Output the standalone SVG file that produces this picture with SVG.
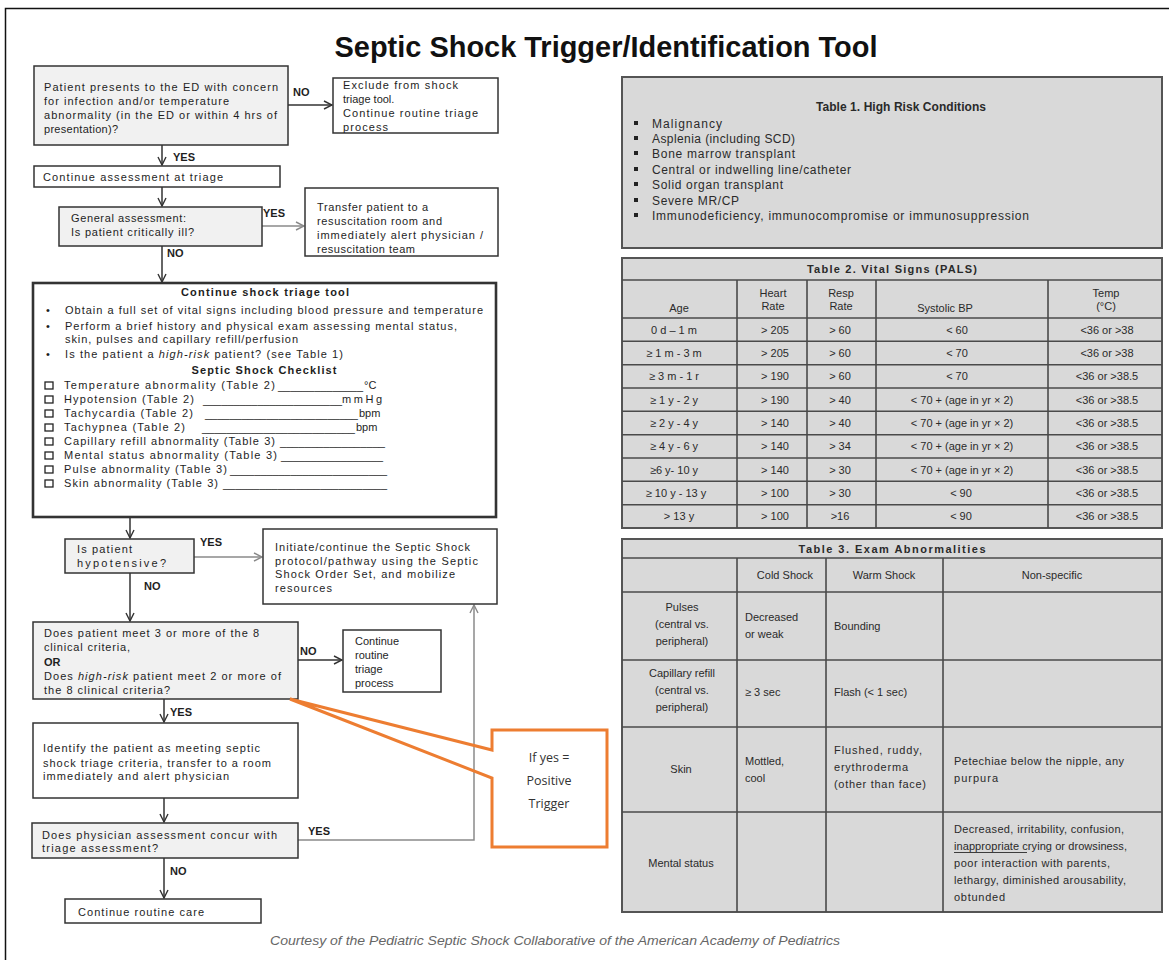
<svg xmlns="http://www.w3.org/2000/svg" width="1169" height="960" viewBox="0 0 1169 960">
  <defs>
    <marker id="arr" viewBox="0 0 10 10" refX="9" refY="5" markerWidth="10" markerHeight="10" markerUnits="userSpaceOnUse" orient="auto">
      <path d="M1,1 L9,5 L1,9" fill="none" stroke="#333" stroke-width="1.4"/>
    </marker>
    <marker id="arrG" viewBox="0 0 10 10" refX="9" refY="5" markerWidth="10" markerHeight="10" markerUnits="userSpaceOnUse" orient="auto">
      <path d="M1,1 L9,5 L1,9" fill="none" stroke="#8a8a8a" stroke-width="1.4"/>
    </marker>
    <style>
      .t { font-family: "Liberation Sans", Arial, sans-serif; font-size: 11px; fill: #1e1e1e; }
      .b { font-weight: bold; }
      .i { font-style: italic; }
      .mid { text-anchor: middle; }
      .box { fill: #ffffff; stroke: #333; stroke-width: 1.5; }
      .gbox { fill: #f1f1f1; stroke: #333; stroke-width: 1.5; }
      .conn { fill: none; stroke: #333; stroke-width: 1.5; }
      .conng { fill: none; stroke: #8a8a8a; stroke-width: 1.5; }
      .chk { fill: #fff; stroke: #222; stroke-width: 1.3; }
      .tbl { fill: #d9d9d9; stroke: #555; stroke-width: 2; }
      .grid { stroke: #4a4a4a; stroke-width: 1.6; }
      .tt { font-family: "Liberation Sans", Arial, sans-serif; font-size: 11px; fill: #2a2a2a; }
      .t1 { font-family: "Liberation Sans", Arial, sans-serif; font-size: 12px; fill: #2a2a2a; }
      .co { font-family: "Open Sans", "Noto Sans", sans-serif; font-size: 12.5px; fill: #333; text-anchor: middle; }
    </style>
  </defs>

  <rect width="1169" height="960" fill="#ffffff"/>
  <!-- page frame -->
  <rect x="5.5" y="8.5" width="1200" height="1000" fill="none" stroke="#111" stroke-width="1.5"/>

  <text class="t b mid" x="606" y="57" style="font-size:30px;fill:#111" textLength="543" lengthAdjust="spacingAndGlyphs">Septic Shock Trigger/Identification Tool</text>

  <!-- connectors -->
  <g id="connectors">
    <line class="conn" x1="288" y1="105" x2="332" y2="105" marker-end="url(#arr)"/>
    <line class="conn" x1="162" y1="145" x2="162" y2="165" marker-end="url(#arr)"/>
    <line class="conn" x1="162" y1="187" x2="162" y2="206" marker-end="url(#arr)"/>
    <line class="conng" x1="262" y1="226" x2="304" y2="226" marker-end="url(#arrG)"/>
    <line class="conn" x1="162" y1="246" x2="162" y2="282" marker-end="url(#arr)"/>
    <line class="conn" x1="130" y1="517" x2="130" y2="538" marker-end="url(#arr)"/>
    <line class="conng" x1="194" y1="557" x2="262" y2="557" marker-end="url(#arrG)"/>
    <line class="conn" x1="130" y1="573" x2="130" y2="621" marker-end="url(#arr)"/>
    <line class="conn" x1="298" y1="660" x2="342" y2="660" marker-end="url(#arr)"/>
    <line class="conn" x1="164" y1="699" x2="164" y2="722" marker-end="url(#arr)"/>
    <line class="conn" x1="164" y1="798" x2="164" y2="822" marker-end="url(#arr)"/>
    <polyline class="conng" points="298,840 474,840 474,605" marker-end="url(#arrG)"/>
    <line class="conn" x1="164" y1="858" x2="164" y2="898" marker-end="url(#arr)"/>

    <text class="t b" x="293" y="96">NO</text>
    <text class="t b" x="173" y="161">YES</text>
    <text class="t b" x="263" y="217">YES</text>
    <text class="t b" x="167" y="257">NO</text>
    <text class="t b" x="200" y="546">YES</text>
    <text class="t b" x="144" y="590">NO</text>
    <text class="t b" x="300" y="655">NO</text>
    <text class="t b" x="170" y="716">YES</text>
    <text class="t b" x="308" y="835">YES</text>
    <text class="t b" x="170" y="875">NO</text>
  </g>

  <g id="n-presents">
    <rect class="gbox" x="34" y="66" width="254" height="79"/>
    <text class="t" x="44" y="91" textLength="234">Patient presents to the ED with concern</text>
    <text class="t" x="44" y="105" textLength="185">for infection and/or temperature</text>
    <text class="t" x="44" y="119" textLength="233">abnormality (in the ED or within 4 hrs of</text>
    <text class="t" x="44" y="133" textLength="74">presentation)?</text>
  </g>

  <g id="n-exclude">
    <rect class="box" x="333" y="78" width="165" height="55"/>
    <text class="t" x="343" y="89" textLength="115">Exclude from shock</text>
    <text class="t" x="343" y="103">triage tool.</text>
    <text class="t" x="343" y="117" textLength="135">Continue routine triage</text>
    <text class="t" x="343" y="131" textLength="45">process</text>
  </g>

  <g id="n-continue-assess">
    <rect class="box" x="34" y="166" width="246" height="21"/>
    <text class="t" x="43" y="181" textLength="180">Continue assessment at triage</text>
  </g>

  <g id="n-general">
    <rect class="gbox" x="59" y="207" width="203" height="39"/>
    <text class="t" x="71" y="222" textLength="115">General assessment:</text>
    <text class="t" x="71" y="236" textLength="123">Is patient critically ill?</text>
  </g>

  <g id="n-transfer">
    <rect class="box" x="305" y="188" width="193" height="68"/>
    <text class="t" x="317" y="211" textLength="111">Transfer patient to a</text>
    <text class="t" x="317" y="225" textLength="125">resuscitation room and</text>
    <text class="t" x="317" y="239" textLength="166">immediately alert physician /</text>
    <text class="t" x="317" y="253" textLength="98">resuscitation team</text>
  </g>

  <g id="n-triage-tool">
    <rect class="box" x="33" y="283" width="463" height="234" style="stroke-width:2.6"/>
    <text class="t b mid" x="265" y="296" textLength="168">Continue shock triage tool</text>
    <text class="t" x="46" y="314">•</text>
    <text class="t" x="65" y="314" textLength="418">Obtain a full set of vital signs including blood pressure and temperature</text>
    <text class="t" x="46" y="330">•</text>
    <text class="t" x="65" y="330" textLength="392">Perform a brief history and physical exam assessing mental status,</text>
    <text class="t" x="65" y="343" textLength="233">skin, pulses and capillary refill/perfusion</text>
    <text class="t" x="46" y="358">•</text>
    <text class="t" x="65" y="358" textLength="278">Is the patient  a <tspan class="i">high-risk</tspan> patient? (see Table 1)</text>
    <text class="t b mid" x="264" y="374" textLength="145">Septic Shock Checklist</text>

    <rect class="chk" x="45" y="382" width="8" height="7"/>
    <text class="t" x="64" y="389" textLength="211">Temperature abnormality (Table 2)</text>
    <text class="t" x="278" y="390" textLength="85" lengthAdjust="spacingAndGlyphs">______________</text>
    <text class="t" x="364" y="389">°C</text>

    <rect class="chk" x="45" y="396" width="8" height="7"/>
    <text class="t" x="64" y="403" textLength="130">Hypotension (Table 2)</text>
    <text class="t" x="203" y="404" textLength="139" lengthAdjust="spacingAndGlyphs">_______________________</text>
    <text class="t" x="342" y="403" textLength="40">mmHg</text>

    <rect class="chk" x="45" y="410" width="8" height="7"/>
    <text class="t" x="64" y="417" textLength="129">Tachycardia (Table 2)</text>
    <text class="t" x="205" y="418" textLength="153" lengthAdjust="spacingAndGlyphs">_________________________</text>
    <text class="t" x="359" y="417">bpm</text>

    <rect class="chk" x="45" y="424" width="8" height="7"/>
    <text class="t" x="64" y="431" textLength="121">Tachypnea (Table 2)</text>
    <text class="t" x="202" y="432" textLength="153" lengthAdjust="spacingAndGlyphs">_________________________</text>
    <text class="t" x="356" y="431">bpm</text>

    <rect class="chk" x="45" y="438" width="8" height="7"/>
    <text class="t" x="64" y="445" textLength="211">Capillary refill abnormality (Table 3)</text>
    <text class="t" x="280" y="446" textLength="105" lengthAdjust="spacingAndGlyphs">_________________</text>

    <rect class="chk" x="45" y="452" width="8" height="7"/>
    <text class="t" x="64" y="459" textLength="213">Mental status abnormality  (Table 3)</text>
    <text class="t" x="281" y="460" textLength="102" lengthAdjust="spacingAndGlyphs">_________________</text>

    <rect class="chk" x="45" y="466" width="8" height="7"/>
    <text class="t" x="64" y="473" textLength="163">Pulse abnormality (Table 3)</text>
    <text class="t" x="230" y="474" textLength="157" lengthAdjust="spacingAndGlyphs">__________________________</text>

    <rect class="chk" x="45" y="480" width="8" height="7"/>
    <text class="t" x="64" y="487" textLength="154">Skin abnormality (Table 3)</text>
    <text class="t" x="223" y="488" textLength="164" lengthAdjust="spacingAndGlyphs">___________________________</text>
  </g>

  <g id="n-hypotensive">
    <rect class="gbox" x="65" y="539" width="129" height="34"/>
    <text class="t" x="77" y="553" textLength="55">Is patient</text>
    <text class="t" x="77" y="567" textLength="89">hypotensive?</text>
  </g>

  <g id="n-initiate">
    <rect class="box" x="263" y="529" width="234" height="75"/>
    <text class="t" x="275" y="551" textLength="195">Initiate/continue the Septic Shock</text>
    <text class="t" x="275" y="565" textLength="203">protocol/pathway using the Septic</text>
    <text class="t" x="275" y="578" textLength="180">Shock Order Set, and mobilize</text>
    <text class="t" x="275" y="592" textLength="57">resources</text>
  </g>

  <g id="n-criteria">
    <rect class="gbox" x="33" y="622" width="265" height="77"/>
    <text class="t" x="44" y="637" textLength="215">Does patient meet 3 or more of the 8</text>
    <text class="t" x="44" y="651" textLength="86">clinical criteria,</text>
    <text class="t b" x="44" y="666">OR</text>
    <text class="t" x="44" y="680" textLength="237">Does <tspan class="i">high-risk</tspan> patient meet 2 or more of</text>
    <text class="t" x="44" y="694" textLength="126">the 8 clinical criteria?</text>
  </g>

  <g id="n-routine-triage">
    <rect class="box" x="343" y="630" width="98" height="62"/>
    <text class="t" x="355" y="645">Continue</text>
    <text class="t" x="355" y="659">routine</text>
    <text class="t" x="355" y="673">triage</text>
    <text class="t" x="355" y="687">process</text>
  </g>

  <g id="n-identify">
    <rect class="box" x="33" y="723" width="265" height="75"/>
    <text class="t" x="43" y="752" textLength="217">Identify the patient as meeting septic</text>
    <text class="t" x="43" y="767" textLength="228">shock triage criteria, transfer to a room</text>
    <text class="t" x="43" y="780" textLength="186">immediately and alert physician</text>
  </g>

  <g id="n-physician">
    <rect class="gbox" x="32" y="823" width="266" height="35"/>
    <text class="t" x="42" y="839" textLength="235">Does physician assessment concur with</text>
    <text class="t" x="42" y="852" textLength="116">triage assessment?</text>
  </g>

  <g id="n-routine-care">
    <rect class="box" x="65" y="899" width="196" height="24"/>
    <text class="t" x="78" y="916" textLength="126">Continue routine care</text>
  </g>

  <g id="n-callout">
    <path d="M492,730 H607 V847 H492 V778 L290,699 L492,750 Z" fill="none" stroke="#ED7D31" stroke-width="3" stroke-linejoin="miter"/>
    <text class="co" x="549" y="762">If yes =</text>
    <text class="co" x="549" y="785">Positive</text>
    <text class="co" x="549" y="808">Trigger</text>
  </g>

  <!-- Table 1 -->
  <g id="table1">
    <rect class="tbl" x="622" y="77" width="540" height="171"/>
    <text class="t1 b mid" x="901" y="111" textLength="170">Table 1. High Risk Conditions</text>
    <g class="t1">
      <rect x="634" y="121" width="4" height="4" fill="#222"/>
      <text x="652" y="128" textLength="70">Malignancy</text>
      <rect x="634" y="136" width="4" height="4" fill="#222"/>
      <text x="652" y="143" textLength="143">Asplenia (including SCD)</text>
      <rect x="634" y="151" width="4" height="4" fill="#222"/>
      <text x="652" y="158" textLength="143">Bone marrow transplant</text>
      <rect x="634" y="167" width="4" height="4" fill="#222"/>
      <text x="652" y="174" textLength="199">Central or indwelling line/catheter</text>
      <rect x="634" y="182" width="4" height="4" fill="#222"/>
      <text x="652" y="189" textLength="131">Solid organ transplant</text>
      <rect x="634" y="198" width="4" height="4" fill="#222"/>
      <text x="652" y="205" textLength="87">Severe MR/CP</text>
      <rect x="634" y="213" width="4" height="4" fill="#222"/>
      <text x="652" y="220" textLength="377">Immunodeficiency, immunocompromise or immunosuppression</text>
    </g>
  </g>

  <!-- Table 2 -->
  <g id="table2">
    <rect class="tbl" x="622" y="258" width="540" height="270"/>
    <g class="grid">
      <line x1="622" y1="280" x2="1162" y2="280"/>
      <line x1="622" y1="318" x2="1162" y2="318"/>
      <line x1="622" y1="341.3" x2="1162" y2="341.3"/>
      <line x1="622" y1="364.7" x2="1162" y2="364.7"/>
      <line x1="622" y1="388" x2="1162" y2="388"/>
      <line x1="622" y1="411.3" x2="1162" y2="411.3"/>
      <line x1="622" y1="434.7" x2="1162" y2="434.7"/>
      <line x1="622" y1="458" x2="1162" y2="458"/>
      <line x1="622" y1="481.3" x2="1162" y2="481.3"/>
      <line x1="622" y1="504.7" x2="1162" y2="504.7"/>
      <line x1="737" y1="280" x2="737" y2="528"/>
      <line x1="807" y1="280" x2="807" y2="528"/>
      <line x1="876" y1="280" x2="876" y2="528"/>
      <line x1="1048" y1="280" x2="1048" y2="528"/>
    </g>
    <text class="tt b mid" x="892" y="273" textLength="170">Table 2. Vital Signs (PALS)</text>
    <g class="tt mid">
      <text x="679" y="312">Age</text>
      <text x="773" y="297">Heart</text>
      <text x="773" y="310">Rate</text>
      <text x="841" y="297">Resp</text>
      <text x="841" y="310">Rate</text>
      <text x="945" y="312">Systolic BP</text>
      <text x="1106" y="297">Temp</text>
      <text x="1106" y="310">(°C)</text>

      <text x="674" y="334">0 d –  1 m</text>
      <text x="674" y="357">≥ 1 m - 3 m</text>
      <text x="674" y="380">≥ 3 m - 1 r</text>
      <text x="674" y="404">≥ 1 y - 2 y</text>
      <text x="674" y="427">≥ 2 y - 4 y</text>
      <text x="674" y="450">≥ 4 y - 6 y</text>
      <text x="674" y="474">≥6 y- 10 y</text>
      <text x="676" y="497">≥ 10 y - 13 y</text>
      <text x="679" y="520">&gt; 13 y</text>

      <text x="775" y="334">&gt; 205</text>
      <text x="775" y="357">&gt; 205</text>
      <text x="775" y="380">&gt; 190</text>
      <text x="775" y="404">&gt; 190</text>
      <text x="775" y="427">&gt; 140</text>
      <text x="775" y="450">&gt; 140</text>
      <text x="775" y="474">&gt; 140</text>
      <text x="775" y="497">&gt; 100</text>
      <text x="775" y="520">&gt; 100</text>

      <text x="840" y="334">&gt; 60</text>
      <text x="840" y="357">&gt; 60</text>
      <text x="840" y="380">&gt; 60</text>
      <text x="840" y="404">&gt; 40</text>
      <text x="840" y="427">&gt; 40</text>
      <text x="840" y="450">&gt; 34</text>
      <text x="840" y="474">&gt; 30</text>
      <text x="840" y="497">&gt; 30</text>
      <text x="840" y="520">&gt;16</text>

      <text x="957" y="334">&lt; 60</text>
      <text x="957" y="357">&lt; 70</text>
      <text x="957" y="380">&lt; 70</text>
      <text x="962" y="404">&lt; 70 +  (age in yr × 2)</text>
      <text x="962" y="427">&lt; 70 +  (age in yr × 2)</text>
      <text x="962" y="450">&lt; 70 +  (age in yr × 2)</text>
      <text x="962" y="474">&lt; 70 +  (age in yr × 2)</text>
      <text x="961" y="497">&lt; 90</text>
      <text x="961" y="520">&lt; 90</text>

      <text x="1107" y="334">&lt;36 or &gt;38</text>
      <text x="1107" y="357">&lt;36 or &gt;38</text>
      <text x="1107" y="380">&lt;36 or &gt;38.5</text>
      <text x="1107" y="404">&lt;36 or &gt;38.5</text>
      <text x="1107" y="427">&lt;36 or &gt;38.5</text>
      <text x="1107" y="450">&lt;36 or &gt;38.5</text>
      <text x="1107" y="474">&lt;36 or &gt;38.5</text>
      <text x="1107" y="497">&lt;36 or &gt;38.5</text>
      <text x="1107" y="520">&lt;36 or &gt;38.5</text>
    </g>
  </g>

  <!-- Table 3 -->
  <g id="table3">
    <rect class="tbl" x="622" y="539" width="540" height="373"/>
    <g class="grid">
      <line x1="622" y1="558" x2="1162" y2="558"/>
      <line x1="622" y1="592" x2="1162" y2="592"/>
      <line x1="622" y1="660" x2="1162" y2="660"/>
      <line x1="622" y1="727" x2="1162" y2="727"/>
      <line x1="622" y1="812" x2="1162" y2="812"/>
      <line x1="737" y1="558" x2="737" y2="912"/>
      <line x1="826" y1="558" x2="826" y2="912"/>
      <line x1="943" y1="558" x2="943" y2="912"/>
    </g>
    <text class="tt b mid" x="892" y="553" textLength="187">Table 3.  Exam Abnormalities</text>
    <g class="tt">
      <text class="mid" x="785" y="579">Cold Shock</text>
      <text class="mid" x="884" y="579">Warm Shock</text>
      <text class="mid" x="1052" y="579">Non-specific</text>

      <text class="mid" x="682" y="611">Pulses</text>
      <text class="mid" x="682" y="628">(central vs.</text>
      <text class="mid" x="682" y="645">peripheral)</text>
      <text x="745" y="621">Decreased</text>
      <text x="745" y="638">or weak</text>
      <text x="834" y="630">Bounding</text>

      <text class="mid" x="682" y="677">Capillary refill</text>
      <text class="mid" x="682" y="694">(central vs.</text>
      <text class="mid" x="682" y="711">peripheral)</text>
      <text x="745" y="696">≥ 3 sec</text>
      <text x="834" y="696">Flash (&lt; 1 sec)</text>

      <text class="mid" x="681" y="773">Skin</text>
      <text x="745" y="765">Mottled,</text>
      <text x="745" y="782">cool</text>
      <text x="834" y="754" textLength="88">Flushed, ruddy,</text>
      <text x="834" y="771" textLength="74">erythroderma</text>
      <text x="834" y="788" textLength="92">(other than face)</text>
      <text x="954" y="765" textLength="170">Petechiae below the nipple, any</text>
      <text x="954" y="782" textLength="44">purpura</text>

      <text class="mid" x="681" y="867">Mental status</text>
      <text x="954" y="833" textLength="170">Decreased, irritability, confusion,</text>
      <text x="954" y="850" textLength="173">inappropriate crying or drowsiness,</text>
      <text x="954" y="867" textLength="156">poor interaction with parents,</text>
      <text x="954" y="884" textLength="172">lethargy, diminished arousability,</text>
      <text x="954" y="901" textLength="51">obtunded</text>
    </g>
    <line x1="954" y1="852.5" x2="1027" y2="852.5" stroke="#2a2a2a" stroke-width="0.9"/>
  </g>

  <text class="mid i" x="555" y="945" style="font-family:'Liberation Sans',Arial,sans-serif;font-size:13px;fill:#666" textLength="570" lengthAdjust="spacingAndGlyphs">Courtesy of the Pediatric Septic Shock Collaborative of the American Academy of Pediatrics</text>
</svg>
